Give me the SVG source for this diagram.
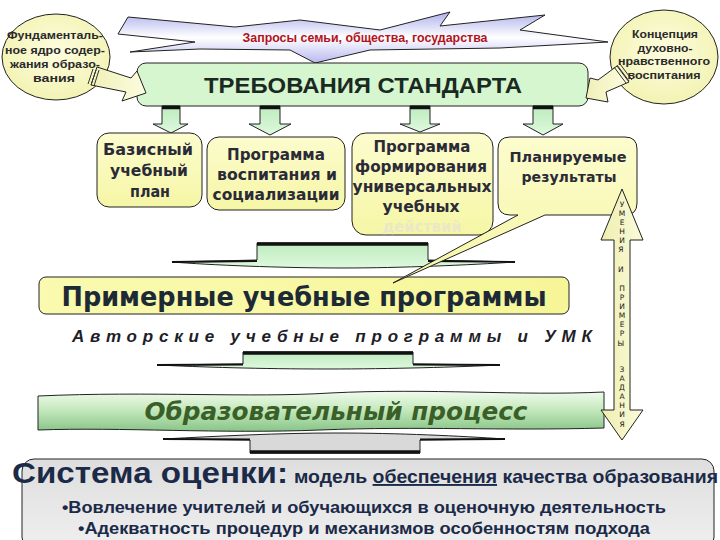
<svg xmlns="http://www.w3.org/2000/svg" width="720" height="540" viewBox="0 0 720 540">
<defs>
<linearGradient id="gYel" x1="0" y1="0" x2="0" y2="1"><stop offset="0" stop-color="#fcfcce"/><stop offset="1" stop-color="#f6f6a6"/></linearGradient>
<linearGradient id="gYel2" x1="0" y1="0" x2="1" y2="0"><stop offset="0" stop-color="#fafab0"/><stop offset="1" stop-color="#f6f698"/></linearGradient>
<radialGradient id="gEll" cx="0.5" cy="0.45" r="0.6"><stop offset="0" stop-color="#fdfde0"/><stop offset="1" stop-color="#f2f2b0"/></radialGradient>
<linearGradient id="gBand" x1="0" y1="0" x2="0" y2="1"><stop offset="0" stop-color="#aeb0ec"/><stop offset="0.5" stop-color="#ffffff"/><stop offset="1" stop-color="#b8b8f0"/></linearGradient>
<linearGradient id="gGA" x1="0" y1="0" x2="0" y2="1"><stop offset="0" stop-color="#bdebbd"/><stop offset="1" stop-color="#def9de"/></linearGradient>
<linearGradient id="gProc" x1="0" y1="0" x2="0" y2="1"><stop offset="0" stop-color="#f0fbec"/><stop offset="0.45" stop-color="#c6e9be"/><stop offset="1" stop-color="#88c588"/></linearGradient>
<linearGradient id="gGray" x1="0" y1="0" x2="0" y2="1"><stop offset="0" stop-color="#dedede"/><stop offset="1" stop-color="#efefef"/></linearGradient>
<linearGradient id="gVert" x1="0" y1="0" x2="1" y2="0"><stop offset="0" stop-color="#eeeeb0"/><stop offset="1" stop-color="#fbfbdc"/></linearGradient>
<linearGradient id="gArr" x1="0" y1="0" x2="1" y2="0"><stop offset="0" stop-color="#f0f0b8"/><stop offset="1" stop-color="#fcfce0"/></linearGradient>
</defs>
<style>
.ln{stroke:#222;stroke-width:1}
.bar{stroke:#111;stroke-width:3.5;fill:none}
.bt{font-family:"DejaVu Sans","Noto Sans",sans-serif;font-weight:bold;font-size:15px;fill:#2b2b38;text-anchor:middle}
.et{font-family:"Liberation Sans",Arial,sans-serif;font-weight:bold;font-size:11.5px;fill:#2a2a2a;text-anchor:middle}
.vt{font-family:"DejaVu Sans",sans-serif;font-size:7.5px;fill:#222;text-anchor:middle}
.st{font-family:"Liberation Sans",Arial,sans-serif;font-weight:bold;fill:#1b2a48}
</style>

<g id="connectors">
  <path id="band" class="ln" fill="url(#gBand)" d="M118,34 L128,17 L235,27 L300,20 L380,30 L450,12 L440,26 L545,15 L520,30 L608,42 L500,48 L370,50 L315,63 L290,50 L200,49 L130,52 L195,42 Z"/>
  <text x="365" y="42" font-family="'Liberation Sans',Arial,sans-serif" font-weight="bold" font-size="12" fill="#b3121b" text-anchor="middle" textLength="245" lengthAdjust="spacingAndGlyphs">Запросы семьи, общества, государства</text>
</g>

<g id="standard">
  <rect x="137" y="63" width="451" height="43" rx="9" class="ln" fill="#d6f6cf"/>
  <text x="363" y="93" font-family="'Liberation Sans',Arial,sans-serif" font-weight="bold" font-size="22" fill="#1a2a22" text-anchor="middle" textLength="318" lengthAdjust="spacingAndGlyphs">ТРЕБОВАНИЯ СТАНДАРТА</text>
</g>

<g id="core">
  <ellipse cx="56" cy="57" rx="54" ry="43" class="ln" fill="url(#gEll)"/>
  <text class="et" x="55" y="39" textLength="96" lengthAdjust="spacingAndGlyphs">Фундаменталь-</text>
  <text class="et" x="55" y="54" textLength="100" lengthAdjust="spacingAndGlyphs">ное ядро содер-</text>
  <text class="et" x="55" y="68" textLength="90" lengthAdjust="spacingAndGlyphs">жания образо-</text>
  <text class="et" x="54" y="82" textLength="42" lengthAdjust="spacingAndGlyphs">вания</text>
</g>

<g id="concept">
  <ellipse cx="664" cy="57" rx="54" ry="47" class="ln" fill="url(#gEll)"/>
  <text class="et" x="665" y="38" textLength="66" lengthAdjust="spacingAndGlyphs">Концепция</text>
  <text class="et" x="665" y="52" textLength="55" lengthAdjust="spacingAndGlyphs">духовно-</text>
  <text class="et" x="664" y="65" textLength="92" lengthAdjust="spacingAndGlyphs">нравственного</text>
  <text class="et" x="664" y="79" textLength="73" lengthAdjust="spacingAndGlyphs">воспитания</text>
</g>

<g id="arrows">
  <path class="ln" fill="url(#gArr)" d="M97,67 L131,78 L137,71 L146,93 L122,101 L126,92 L91,85 Z"/>
  <path d="M93,69 L88,84 M96,70 L91,85 M99,70 L94,86" stroke="#333" stroke-width="1" fill="none"/>
  <path class="ln" fill="url(#gArr)" d="M617,66 L598,80 L590,78 L586,98 L608,102 L606,92 L629,82 Z"/>
  <path d="M614,67 L626,83 M617,65 L629,81 M620,64 L632,80" stroke="#333" stroke-width="1" fill="none"/>

  <path class="ln" fill="url(#gGA)" d="M162,106 H180 V124 H188 L171,133 L153,124 H162 Z"/>
  <path class="bar" d="M162,107.5 H180"/>
  <path class="ln" fill="url(#gGA)" d="M260,106 H280 V124 H291 L270,135 L249,124 H260 Z"/>
  <path class="bar" d="M260,107.5 H280"/>
  <path class="ln" fill="url(#gGA)" d="M410,106 H430 V124 H440 L420,132 L400,124 H410 Z"/>
  <path class="bar" d="M410,107.5 H430"/>
  <path class="ln" fill="url(#gGA)" d="M533,106 H553 V124 H563 L543,135 L523,124 H533 Z"/>
  <path class="bar" d="M533,107.5 H553"/>
</g>

<g id="basic-plan">
  <rect x="97" y="133" width="105" height="74" rx="12" class="ln" fill="url(#gYel)"/>
  <text class="bt" x="148" y="155" textLength="90" lengthAdjust="spacingAndGlyphs">Базисный</text>
  <text class="bt" x="149" y="176" textLength="78" lengthAdjust="spacingAndGlyphs">учебный</text>
  <text class="bt" x="150" y="197" textLength="40" lengthAdjust="spacingAndGlyphs">план</text>
</g>

<g id="upbringing">
  <rect x="207" y="137" width="138" height="73" rx="12" class="ln" fill="url(#gYel)"/>
  <text class="bt" x="276" y="160" textLength="98" lengthAdjust="spacingAndGlyphs">Программа</text>
  <text class="bt" x="277" y="180" textLength="120" lengthAdjust="spacingAndGlyphs">воспитания и</text>
  <text class="bt" x="276" y="200" textLength="127" lengthAdjust="spacingAndGlyphs">социализации</text>
</g>

<g id="uud">
  <rect x="352" y="133" width="141" height="102" rx="14" class="ln" fill="url(#gYel)"/>
  <text class="bt" x="422" y="152" textLength="97" lengthAdjust="spacingAndGlyphs">Программа</text>
  <text class="bt" x="421" y="172" textLength="132" lengthAdjust="spacingAndGlyphs">формирования</text>
  <text class="bt" x="422" y="192" textLength="139" lengthAdjust="spacingAndGlyphs">универсальных</text>
  <text class="bt" x="421" y="212" textLength="77" lengthAdjust="spacingAndGlyphs">учебных</text>
  <text class="bt" x="422" y="232" textLength="79" lengthAdjust="spacingAndGlyphs" style="fill:#ebe8c6">действий</text>
</g>

<g id="flat1">
  <path class="ln" fill="url(#gGA)" d="M257,243 H428 V260 L515,262 C470,265 400,268 343,268 C280,268 210,265 172,262 L257,260 Z"/>
  <path class="bar" d="M257,244 H428"/>
  <path d="M172,262 L257,261 M428,261 L515,262" stroke="#111" stroke-width="1.8" fill="none"/>
</g>

<g id="sample-programs">
  <rect x="39" y="277" width="530" height="37" rx="7" class="ln" fill="url(#gYel2)"/>
  <text x="304" y="306" font-family="'DejaVu Sans',sans-serif" font-weight="bold" font-size="26" fill="#1d2a36" text-anchor="middle" textLength="485" lengthAdjust="spacingAndGlyphs">Примерные учебные программы</text>
</g>

<g id="results">
  <path class="ln" fill="url(#gYel)" d="M510,137 H625 Q637,137 637,149 V203 Q637,215 625,215 H545 L393,283 L518,215 H510 Q498,215 498,203 V149 Q498,137 510,137 Z"/>
  <text class="bt" x="568" y="162" style="font-size:14px" textLength="117" lengthAdjust="spacingAndGlyphs">Планируемые</text>
  <text class="bt" x="569" y="182" style="font-size:14px" textLength="95" lengthAdjust="spacingAndGlyphs">результаты</text>
</g>

<g id="author">
  <text x="72" y="342" font-family="'Liberation Sans',Arial,sans-serif" font-weight="bold" font-style="italic" font-size="17" fill="#1e1e28" textLength="520" lengthAdjust="spacing">Авторские   учебные   программы   и   УМК</text>
</g>

<g id="flat2">
  <path class="ln" fill="url(#gGA)" d="M243,352 H413 V364 L500,365 C460,367 390,369 328,369 C260,369 200,367 157,365 L243,364 Z"/>
  <path class="bar" d="M243,353 H413"/>
  <path d="M157,365 L243,364.5 M413,364.5 L500,365" stroke="#111" stroke-width="1.8" fill="none"/>
</g>

<g id="process">
  <path class="ln" fill="url(#gProc)" d="M38,396 C150,391 250,398 330,393 C430,388 520,396 604,392 L604,428 C500,431 420,426 320,430 C220,434 120,427 38,430 Z"/>
  <text x="336" y="420" font-family="'DejaVu Sans',sans-serif" font-weight="bold" font-style="italic" font-size="24" fill="#3a5f28" text-anchor="middle" textLength="383" lengthAdjust="spacingAndGlyphs">Образовательный процесс</text>
</g>

<g id="flat3">
  <path class="ln" fill="#d9d9d9" d="M163,439 C220,436 280,433 335,433 C400,433 460,436 505,439 L420,440 V453 H250 V440 Z"/>
  <path class="bar" d="M250,452 H420"/>
  <path d="M163,439 L250,439.5 M420,439.5 L505,439" stroke="#111" stroke-width="1.8" fill="none"/>
</g>

<g id="skills">
  <path class="ln" fill="url(#gVert)" d="M622,189 L643,240 H630 V410 H643 L622,440 L601,410 H614 V240 H601 Z"/>
  <text class="vt">
    <tspan x="622" y="207">У</tspan><tspan x="622" y="216">М</tspan><tspan x="622" y="225">Е</tspan><tspan x="622" y="234">Н</tspan><tspan x="622" y="243">И</tspan><tspan x="622" y="252">Я</tspan>
    <tspan x="622" y="272">И</tspan>
    <tspan x="622" y="291">П</tspan><tspan x="622" y="300">Р</tspan><tspan x="622" y="309">И</tspan><tspan x="622" y="318">М</tspan><tspan x="622" y="327">Е</tspan><tspan x="622" y="336">Р</tspan><tspan x="622" y="346">Ы</tspan>
    <tspan x="622" y="372">З</tspan><tspan x="622" y="381">А</tspan><tspan x="622" y="390">Д</tspan><tspan x="622" y="399">А</tspan><tspan x="622" y="408">Н</tspan><tspan x="622" y="417">И</tspan><tspan x="622" y="427">Я</tspan>
  </text>
</g>

<g id="assessment">
  <rect x="22" y="459" width="692" height="90" rx="12" class="ln" fill="url(#gGray)"/>
  <text class="st" x="12" y="483" font-size="30" textLength="276" lengthAdjust="spacingAndGlyphs">Система оценки:</text>
  <text class="st" x="294" y="483" font-size="19" textLength="424" lengthAdjust="spacingAndGlyphs">модель <tspan text-decoration="underline">обеспечения</tspan> качества образования</text>
  <text class="st" x="62" y="513" font-size="17" textLength="604" lengthAdjust="spacingAndGlyphs">•Вовлечение учителей и обучающихся в оценочную деятельность</text>
  <text class="st" x="78" y="534" font-size="17" textLength="572" lengthAdjust="spacingAndGlyphs">•Адекватность процедур и механизмов особенностям подхода</text>
</g>
</svg>
